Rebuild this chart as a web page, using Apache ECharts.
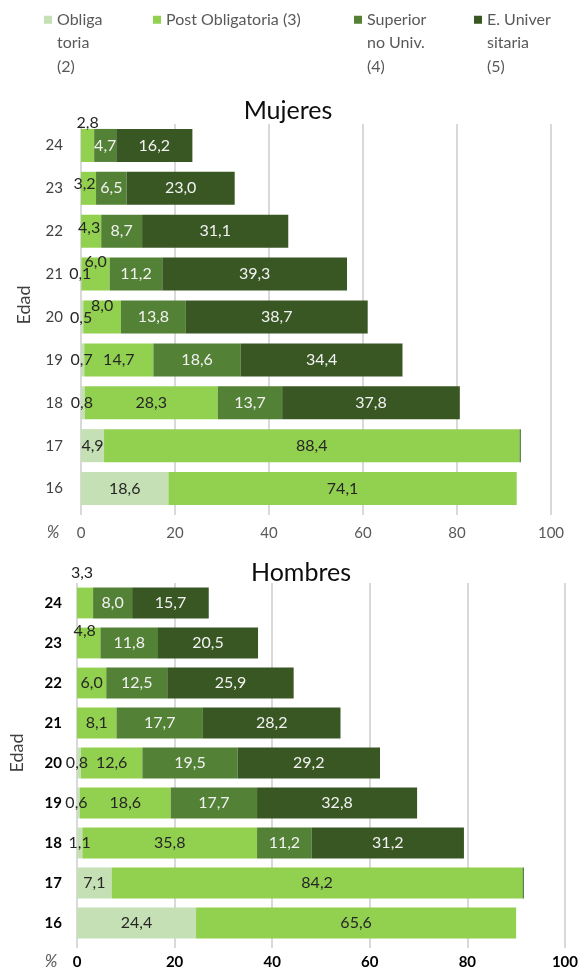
<!DOCTYPE html>
<html><head><meta charset="utf-8">
<script src="https://cdn.jsdelivr.net/npm/echarts@6/dist/echarts.min.js"></script>
<style>html,body{margin:0;padding:0;background:#fff}#c{width:581px;height:974px}</style>
</head><body><div id="c"></div>
<script>
// ---- data ----
const ages = ['16', '17', '18', '19', '20', '21', '22', '23', '24'];
const seriesNames = ['Obligatoria (2)', 'Post Obligatoria (3)', 'Superior no Univ. (4)', 'E. Universitaria (5)'];
const legendLabels = ['Obliga\ntoria\n(2)', 'Post Obligatoria (3)', 'Superior\nno Univ.\n(4)', 'E. Univer\nsitaria\n(5)'];
const xTicks = [0, 20, 40, 60, 80, 100];
const titles = ['Mujeres', 'Hombres'];

// Mujeres
const mujObligatoria     = [18.6, 4.9, 0.8, 0.7, 0.5, 0.1, null, null, null];
const mujPostObligatoria = [74.1, 88.4, 28.3, 14.7, 8.0, 6.0, 4.3, 3.2, 2.8];
const mujSuperiorNoUniv  = [null, 0.3, 13.7, 18.6, 13.8, 11.2, 8.7, 6.5, 4.7];
const mujUniversitaria   = [null, null, 37.8, 34.4, 38.7, 39.3, 31.1, 23.0, 16.2];
// Hombres
const homObligatoria     = [24.4, 7.1, 1.1, 0.6, 0.8, null, null, null, null];
const homPostObligatoria = [65.6, 84.2, 35.8, 18.6, 12.6, 8.1, 6.0, 4.8, 3.3];
const homSuperiorNoUniv  = [null, 0.3, 11.2, 17.7, 19.5, 17.7, 12.5, 11.8, 8.0];
const homUniversitaria   = [null, null, 31.2, 32.8, 29.2, 28.2, 25.9, 20.5, 15.7];

// ---- presentation (label nudges, colours) ----
const colors = ['#c5e0b4', '#92d050', '#538135', '#385723'];
const labelColors = ['#262626', '#262626', '#f2f2f2', '#f2f2f2'];
// label nudges keyed by [chart][seriesIndex][categoryIndex] -> [dx, dy]
const labelNudges = [
  { 0: {2: [-1, 0], 3: [-1, 0], 4: [-1, 1], 5: [-1, 0]},
    1: {4: [0, -11], 5: [0, -12], 6: [-2, -3], 7: [-4, -4], 8: [0, -23]} },
  { 0: {3: [-2, 0], 4: [-2, 0]},
    1: {7: [-4, -12], 8: [-3, -30]} }
];
const hiddenLabels = [{2: [1]}, {2: [1]}];

const font = 'Lato';
const fmt = v => (v == null ? '' : v.toFixed(1).replace('.', ','));

const chartData = [
  [mujObligatoria, mujPostObligatoria, mujSuperiorNoUniv, mujUniversitaria],
  [homObligatoria, homPostObligatoria, homSuperiorNoUniv, homUniversitaria]
];

const series = [];
chartData.forEach((group, c) => {
  group.forEach((arr, s) => {
    const nudges = labelNudges[c][s] || {};
    const hidden = hiddenLabels[c][s] || [];
    series.push({
      name: seriesNames[s],
      type: 'bar',
      stack: c === 0 ? 'muj' : 'hom',
      xAxisIndex: c,
      yAxisIndex: c,
      barCategoryGap: '23%',
      itemStyle: { color: colors[s] },
      label: {
        show: true,
        position: 'inside',
        fontFamily: font,
        fontSize: 16,
        color: labelColors[s],
        formatter: p => (hidden.indexOf(p.dataIndex) >= 0 ? '' : fmt(p.value))
      },
      labelLayout: params => {
        const n = nudges[params.dataIndex];
        return n ? { dx: n[0], dy: n[1] } : {};
      },
      data: arr
    });
  });
});

// Legend: multi-line names with the square marker aligned to the first line.
const legendLeft = [44, 153, 354, 474];
const legendLine = 23.5;
const sq = 8;
const legends = seriesNames.map((n, i) => {
  const lines = legendLabels[i].split('\n').length;
  // tall icon box whose visible square sits at the top, so the first text line lines up with it
  const h = sq + (lines - 1) * legendLine;
  const icon = lines > 1
    ? 'path://M0,0L' + sq + ',0L' + sq + ',' + sq + 'L0,' + sq + 'Z M0,' + h + 'L0.01,' + h
    : 'rect';
  return {
    data: [n],
    left: legendLeft[i],
    top: 8,
    padding: 0,
    icon: icon,
    itemWidth: sq,
    itemHeight: lines > 1 ? h : sq,
    itemGap: 0,
    formatter: () => legendLabels[i],
    textStyle: { fontFamily: font, fontSize: 16, color: '#595959', lineHeight: legendLine }
  };
});

const option = {
  animation: false,
  backgroundColor: '#ffffff',
  title: [
    { text: titles[0], left: 283, top: 93, textAlign: 'center',
      textStyle: { fontFamily: font, fontSize: 25, fontWeight: 'normal', color: '#0d0d0d', lineHeight: 25 } },
    { text: titles[1], left: 296, top: 555, textAlign: 'center',
      textStyle: { fontFamily: font, fontSize: 25, fontWeight: 'normal', color: '#0d0d0d', lineHeight: 25 } }
  ],
  legend: legends,
  grid: [
    { left: 81, top: 124, width: 470, height: 386 },
    { left: 77, top: 583, width: 489, height: 360 }
  ],
  xAxis: [0, 1].map(c => ({
    type: 'value', gridIndex: c, min: xTicks[0], max: xTicks[xTicks.length - 1], interval: xTicks[1] - xTicks[0],
    axisLine: { show: false },
    axisTick: { show: true, length: 5, lineStyle: { color: '#d9d9d9', width: 2 } },
    splitLine: { show: true, lineStyle: { color: '#d9d9d9', width: 2 } },
    axisLabel: {
      fontFamily: font, fontSize: 15, margin: c === 0 ? 16 : 12,
      color: c === 0 ? '#595959' : '#000000', fontWeight: c === 0 ? 'normal' : 'bold'
    }
  })),
  yAxis: [0, 1].map(c => ({
    type: 'category', gridIndex: c, data: ages,
    axisLine: { show: false }, axisTick: { show: false },
    axisLabel: {
      fontFamily: font, fontSize: 15, margin: c === 0 ? 18 : 15,
      color: c === 0 ? '#404040' : '#000000', fontWeight: c === 0 ? 'normal' : 'bold'
    },
    name: 'Edad', nameLocation: 'middle', nameRotate: 90, nameGap: c === 0 ? 48 : 51,
    nameTextStyle: { fontFamily: font, fontSize: 18, color: '#404040', padding: [0, 0, 0, c === 0 ? 24 : 20] }
  })),
  graphic: [
    { type: 'text', style: { text: '%', x: 53, y: 533, font: 'italic 17px Lato', fill: '#595959', align: 'center', verticalAlign: 'middle' } },
    { type: 'text', style: { text: '%', x: 51, y: 962, font: 'italic 17px Lato', fill: '#595959', align: 'center', verticalAlign: 'middle' } }
  ],
  series: series
};

const chart = echarts.init(document.getElementById('c'), null, { renderer: 'canvas' });
chart.setOption(option);
</script>
</body></html>
